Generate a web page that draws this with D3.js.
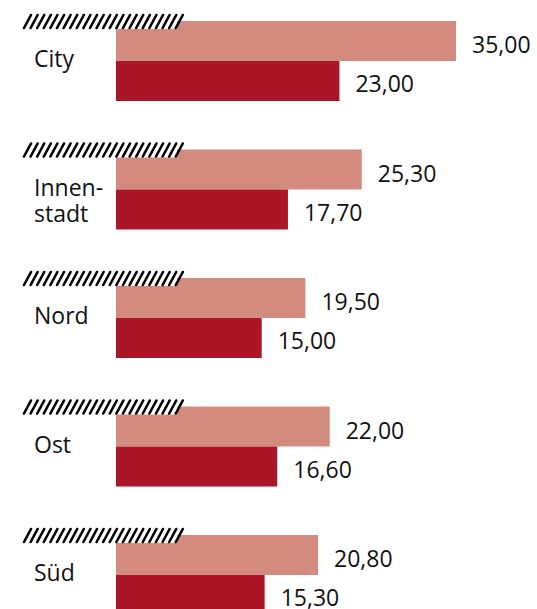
<!DOCTYPE html>
<html>
<head>
<meta charset="utf-8">
<script src="https://cdn.jsdelivr.net/npm/d3@7/dist/d3.min.js"></script>
<style>
  body { margin: 0; background: #fff; }
  text { font-family: "Open Sans", "Noto Sans", sans-serif; }
</style>
</head>
<body>
<div id="bar-chart"></div>
<script>
"use strict";

// chart data
let categories = ["City", "Innenstadt", "Nord", "Ost", "Süd"];
let labelLines = [["City"], ["Innen-", "stadt"], ["Nord"], ["Ost"], ["Süd"]];
let valuesA = [35.0, 25.3, 19.5, 22.0, 20.8];   // light bars
let valuesB = [23.0, 17.7, 15.0, 16.6, 15.3];   // dark bars

let colorA = "#d38b7f";
let colorB = "#aa1628";

var width = 537,
    height = 609,
    barLeft = 116,
    barHeight = 40,
    fontSize = "23px";

var xScale = d3.scaleLinear()
  .domain([0, 35])
  .range([barLeft, 456]);

var yScale = d3.scalePoint()
  .domain(categories)
  .range([21, 535]);

// german number format 35,00
var de = d3.formatLocale({ decimal: ",", thousands: ".", grouping: [3], currency: ["", " €"] });
var fmt = de.format(".2f");

var svg = d3.select("#bar-chart").append("svg")
  .attr("width", width)
  .attr("height", height)
  .style("display", "block");

var groups = svg.selectAll("g.grp").data(categories)
  .enter().append("g")
    .attr("class", "grp")
    .attr("transform", function(d) { return "translate(0," + yScale(d) + ")"; });

// light bars
groups.append("rect")
  .attr("x", barLeft)
  .attr("y", 0)
  .attr("width", function(d, i) { return xScale(valuesA[i]) - barLeft; })
  .attr("height", barHeight)
  .style("fill", colorA);

// dark bars
groups.append("rect")
  .attr("x", barLeft)
  .attr("y", barHeight)
  .attr("width", function(d, i) { return xScale(valuesB[i]) - barLeft; })
  .attr("height", barHeight)
  .style("fill", colorB);

// hatched band on top of the bars
var hatchLeft = 24, hatchRight = 177, hatchTop = -7, hatchBottom = 8, slant = 7, step = 6.6;

groups.append("rect")
  .attr("x", hatchLeft)
  .attr("y", hatchTop)
  .attr("width", hatchRight - hatchLeft)
  .attr("height", hatchBottom - hatchTop)
  .style("fill", "#fff");

groups.each(function() {
  d3.select(this).selectAll("line.hatch").data(d3.range(hatchLeft, hatchRight + 1, step))
    .enter().append("line")
      .attr("class", "hatch")
      .attr("x1", function(x) { return x; })
      .attr("y1", hatchBottom - 1)
      .attr("x2", function(x) { return x + slant; })
      .attr("y2", hatchTop + 1)
      .style("stroke", "#000")
      .style("stroke-width", 2.6)
      .style("stroke-linecap", "round");
});

// category labels
groups.each(function(d, i) {
  d3.select(this).selectAll("text.cat").data(labelLines[i])
    .enter().append("text")
      .attr("class", "cat")
      .attr("x", 34)
      .attr("y", function(t, j) { return 46 + j * 26; })
      .style("font-size", fontSize)
      .style("fill", "#111")
      .text(function(t) { return t; });
});

// value labels
groups.append("text")
  .attr("x", function(d, i) { return xScale(valuesA[i]) + 16; })
  .attr("y", 32)
  .style("font-size", fontSize)
  .style("fill", "#111")
  .text(function(d, i) { return fmt(valuesA[i]); });

groups.append("text")
  .attr("x", function(d, i) { return xScale(valuesB[i]) + 16; })
  .attr("y", barHeight + 31)
  .style("font-size", fontSize)
  .style("fill", "#111")
  .text(function(d, i) { return fmt(valuesB[i]); });
</script>
</body>
</html>
